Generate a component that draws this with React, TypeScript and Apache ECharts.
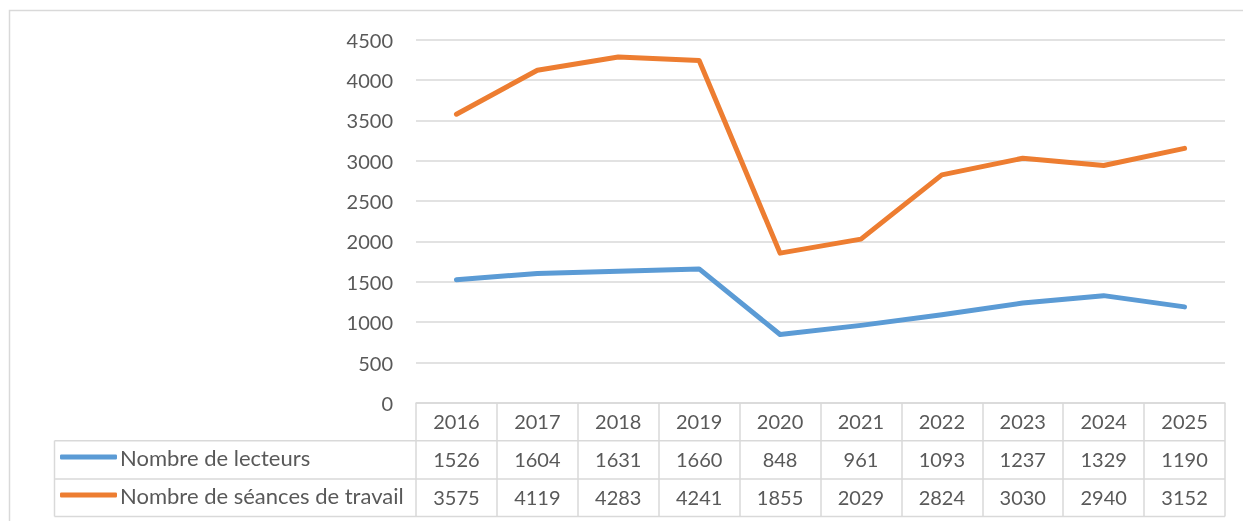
import React, { useEffect, useRef } from "react";
import * as echarts from "echarts";

const years = ["2016", "2017", "2018", "2019", "2020", "2021", "2022", "2023", "2024", "2025"];
const lecteurs = [1526, 1604, 1631, 1660, 848, 961, 1093, 1237, 1329, 1190];
const seances = [3575, 4119, 4283, 4241, 1855, 2029, 2824, 3030, 2940, 3152];
const seriesNames = ["Nombre de lecteurs", "Nombre de séances de travail"];
const colors = ["#5B9BD5", "#ED7D31"];

const W = 1243;
const H = 521;
const FONT = "Lato";
const TXT = "#595959";
const GRID = "#D9D9D9";

export default function App() {
  const ref = useRef<HTMLDivElement>(null);
  useEffect(() => {
    if (!ref.current) return;
    const chart = echarts.init(ref.current, undefined, { renderer: "svg" });
    const gl = 416, gr = 1225, gt = 39.5, gb = 403;
    const r1 = 440.7, r2 = 479, r3 = 516.5, lx = 54.5;
    const line = (x1: number, y1: number, x2: number, y2: number) => ({
      type: "line",
      shape: { x1, y1, x2, y2 },
      style: { stroke: GRID, lineWidth: 1.5 },
      silent: true,
    });
    chart.setOption({
      animation: false,
      textStyle: { fontFamily: FONT },
      grid: { left: gl, right: W - gr, top: gt, bottom: H - gb, containLabel: false },
      legend: {
        orient: "vertical",
        left: 60,
        top: 446,
        padding: 0,
        itemWidth: 57,
        itemHeight: 5,
        itemGap: 16,
        icon: "roundRect",
        textStyle: { color: TXT, fontSize: 22, fontFamily: FONT, padding: [0, 0, 0, -2] },
        data: seriesNames,
      },
      xAxis: {
        type: "category",
        data: years,
        boundaryGap: true,
        axisLine: { show: true, lineStyle: { color: GRID, width: 1.5 } },
        axisTick: { show: true, interval: 0, length: r3 - gb, lineStyle: { color: GRID, width: 1.5 } },
        axisLabel: {
          interval: 0,
          margin: -1,
          color: TXT,
          fontSize: 20,
          fontFamily: FONT,
          lineHeight: 37.8,
          formatter: (v: string, i: number) => `${v}\n${lecteurs[i]}\n${seances[i]}`,
        },
      },
      yAxis: {
        type: "value",
        min: 0,
        max: 4500,
        interval: 500,
        axisLine: { show: false },
        axisTick: { show: false },
        axisLabel: { color: TXT, fontSize: 20, fontFamily: FONT, margin: 23, formatter: (v: number) => String(v) },
        splitLine: { lineStyle: { color: GRID, width: 1.5 } },
      },
      series: [
        {
          name: seriesNames[0],
          type: "line",
          data: lecteurs,
          symbol: "none",
          color: colors[0],
          lineStyle: { width: 5, color: colors[0], cap: "round", join: "round" },
        },
        {
          name: seriesNames[1],
          type: "line",
          data: seances,
          symbol: "none",
          color: colors[1],
          lineStyle: { width: 5, color: colors[1], cap: "round", join: "round" },
        },
      ],
      graphic: [
        {
          type: "rect",
          shape: { x: 9.5, y: 10.5, width: W + 20, height: H + 20 },
          style: { fill: "none", stroke: GRID, lineWidth: 1.5 },
          silent: true,
          z: -10,
        },
        line(lx, r1, gr, r1),
        line(lx, r2, gr, r2),
        line(lx, r3, gr, r3),
        line(lx, r1, lx, r3),
      ],
    });
    return () => chart.dispose();
  }, []);
  return <div ref={ref} style={{ position: "fixed", left: 0, top: 0, width: W, height: H }} />;
}
